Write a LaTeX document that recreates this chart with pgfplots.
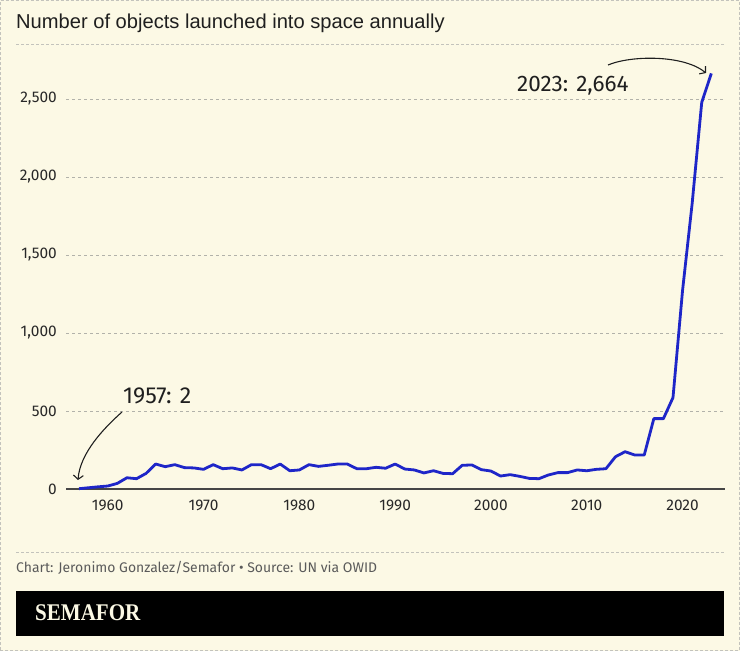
\documentclass[border=0pt]{standalone}
\usepackage{pgfplots}
\pgfplotsset{compat=1.18}
\usepackage{fontspec}
\usetikzlibrary{arrows.meta}
\setmainfont{Liberation Sans}
\newfontfamily\numfont{Fira Sans}
\newfontface\semafont[FakeStretch=0.88]{Liberation Serif Bold}

\definecolor{bgcream}{RGB}{252,249,229}
\definecolor{bordergray}{RGB}{195,195,188}
\definecolor{gridgray}{RGB}{178,178,170}
\definecolor{lineblue}{RGB}{30,38,200}
\definecolor{basegray}{RGB}{70,70,70}
\definecolor{ticktext}{RGB}{40,40,40}
\definecolor{foottext}{RGB}{90,90,90}

\begin{document}
\begin{tikzpicture}[x=1bp,y=1bp]
\path[use as bounding box] (0,0) rectangle (740,651);
\fill[bgcream] (0,0) rectangle (740,651);
\draw[bordergray, line width=1bp, dash pattern=on 3bp off 2bp] (0.5,0.5) rectangle (739.5,650.5);

% title and separators
\node[anchor=base west, inner sep=0, text=black!88] at (16,622)
  {\fontsize{20.2}{24}\selectfont Number of objects launched into space annually};
\draw[bordergray, line width=1bp, dash pattern=on 3bp off 2bp] (16,606) -- (724,606);
\draw[bordergray, line width=1bp, dash pattern=on 3bp off 2bp] (16,98) -- (724,98);

\begin{axis}[
    at={(66bp,162bp)}, anchor=south west,
    scale only axis, width=659bp, height=429bp,
    xmin=1955.64, xmax=2024.43,
    ymin=0, ymax=2750,
    clip=false,
    axis x line*=bottom, axis y line*=left,
    x axis line style={basegray, line width=2bp, -},
    y axis line style={draw=none},
    major tick length=0pt,
    xtick={1960,1970,...,2020},
    ytick={0,500,1000,1500,2000,2500},
    ymajorgrids=true,
    grid style={gridgray, line width=0.9bp, dash pattern=on 3bp off 3bp},
    /pgf/number format/assume math mode=true,
    x tick label style={/pgf/number format/1000 sep={}},
    y tick label style={/pgf/number format/1000 sep={,}},
    tick label style={font=\numfont\fontsize{15.5}{18}\selectfont, text=ticktext, inner sep=0pt},
    xticklabel style={anchor=north, yshift=-11bp},
    yticklabel style={anchor=east, xshift=-9bp},
]
\addplot[lineblue, line width=2.8bp, line join=round, mark=none] coordinates {
(1957,2)(1958,8)(1959,14)(1960,19)(1961,36)(1962,72)(1963,66)(1964,100)
(1965,160)(1966,143)(1967,156)(1968,137)(1969,135)(1970,126)(1971,156)
(1972,130)(1973,135)(1974,122)(1975,156)(1976,156)(1977,130)(1978,160)
(1979,117)(1980,122)(1981,156)(1982,145)(1983,152)(1984,160)(1985,160)
(1986,130)(1987,130)(1988,139)(1989,133)(1990,160)(1991,128)(1992,122)
(1993,103)(1994,117)(1995,100)(1996,98)(1997,152)(1998,154)(1999,124)
(2000,115)(2001,83)(2002,92)(2003,81)(2004,68)(2005,66)(2006,90)
(2007,105)(2008,105)(2009,122)(2010,117)(2011,126)(2012,130)(2013,207)
(2014,239)(2015,218)(2016,218)(2017,451)(2018,451)(2019,586)(2020,1274)
(2021,1830)(2022,2478)(2023,2664)
};
\end{axis}

% annotations
\node[anchor=west, inner sep=0, text=black!88] at (123,255)
  {\numfont\fontsize{23.2}{26}\selectfont 1957: 2};
\draw[black!88, line width=1.1bp, -{Straight Barb[length=4bp,width=10bp]}]
  (122,239) .. controls (104,223) and (80,198) .. (78,171);
\node[anchor=west, inner sep=0, text=black!88] at (517,565)
  {\numfont\fontsize{22.6}{26}\selectfont 2023: 2,664};
\draw[black!88, line width=1.1bp, -{Straight Barb[length=4bp,width=10bp]}]
  (608,586) .. controls (632,596) and (684,596) .. (706,578);

% footer
\node[anchor=base west, inner sep=0, text=foottext] at (16,78)
  {\numfont\fontsize{14}{16}\selectfont Chart: Jeronimo Gonzalez/Semafor • Source: UN via OWID};
\fill[black] (16,15) rectangle (724,60);
\node[anchor=base west, inner sep=0, text=bgcream] at (35,30)
  {\semafont\fontsize{24}{28}\selectfont SEMAFOR};
\end{tikzpicture}
\end{document}
